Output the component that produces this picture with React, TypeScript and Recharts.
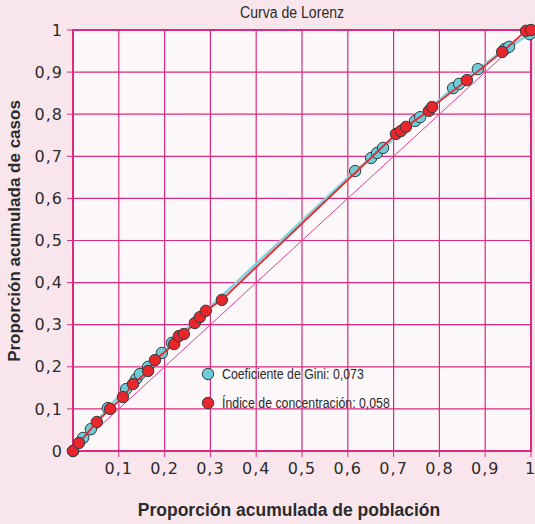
import React from "react";
import { ComposedChart, Scatter, XAxis, YAxis, CartesianGrid, ReferenceArea } from "recharts";

const title = "Curva de Lorenz";
const xTitle = "Proporción acumulada de población";
const yTitle = "Proporción acumulada de casos";
const giniLabel = "Coeficiente de Gini: 0,073";
const concLabel = "Índice de concentración: 0,058";

// cumulative population share / cumulative cases share
const giniX = [0, 0.022, 0.039, 0.076, 0.116, 0.138, 0.146, 0.164, 0.194, 0.216, 0.616, 0.651, 0.664, 0.677, 0.747, 0.758, 0.83, 0.843, 0.884, 0.943, 0.952, 0.997];
const giniY = [0, 0.031, 0.052, 0.102, 0.147, 0.171, 0.183, 0.2, 0.233, 0.257, 0.665, 0.696, 0.708, 0.72, 0.784, 0.793, 0.862, 0.872, 0.907, 0.955, 0.96, 0.99];

const concX = [0, 0.013, 0.052, 0.081, 0.109, 0.131, 0.164, 0.179, 0.221, 0.231, 0.242, 0.266, 0.277, 0.29, 0.325, 0.705, 0.716, 0.727, 0.777, 0.784, 0.86, 0.937, 0.989, 1];
const concY = [0, 0.019, 0.069, 0.1, 0.128, 0.159, 0.19, 0.216, 0.254, 0.273, 0.278, 0.304, 0.318, 0.333, 0.359, 0.753, 0.76, 0.77, 0.808, 0.817, 0.881, 0.948, 0.998, 1];

const equalityX = [0, 1];
const equalityY = [0, 1];

const xTicks = [0.1, 0.2, 0.3, 0.4, 0.5, 0.6, 0.7, 0.8, 0.9, 1];
const yTicks = [0, 0.1, 0.2, 0.3, 0.4, 0.5, 0.6, 0.7, 0.8, 0.9, 1];

const BG = "#f9e6ed";
const PLOT_BG = "#fcf7f9";
const GRID = "#dc2a7e";
const CYAN = "#6fcbd6";
const RED = "#e8262b";
const TEXT = "#2b2b2b";
const TICK_FONT = "'DejaVu Sans', sans-serif";
const SANS = "'Liberation Sans', Arial, sans-serif";

const toPoints = (xs: number[], ys: number[]) => xs.map((x, i) => ({ x, y: ys[i] }));

const fmt = (v: number) => (v === 0 || v === 1 ? String(v) : v.toFixed(1).replace(".", ","));

const dot = (fill: string) => (props: any) => (
  <circle cx={props.cx} cy={props.cy} r={5.7} fill={fill} stroke="#2f3f42" strokeWidth={1} />
);

// condensed look: the narrow face is not installed, so squeeze the regular one
const narrow = (size: number): React.CSSProperties => ({
  display: "inline-block",
  fontFamily: SANS,
  fontSize: size,
  color: TEXT,
  transform: "scaleX(0.88)",
  transformOrigin: "left center",
  whiteSpace: "nowrap",
});

function LegendBox() {
  const items = [
    { label: giniLabel, color: CYAN },
    { label: concLabel, color: RED },
  ];
  return (
    <div style={{ position: "absolute", left: 200, top: 359 }}>
      {items.map((it) => (
        <div key={it.label} style={{ display: "flex", alignItems: "center", height: 29 }}>
          <svg width={16} height={16} style={{ marginRight: 6 }}>
            <circle cx={8} cy={8} r={5.7} fill={it.color} stroke="#2f3f42" strokeWidth={1} />
          </svg>
          <span style={narrow(14)}>{it.label}</span>
        </div>
      ))}
    </div>
  );
}

export default function App() {
  const tick = { fontSize: 16, fill: TEXT, fontFamily: TICK_FONT, letterSpacing: 1 };
  return (
    <div style={{ position: "absolute", left: 0, top: 0, width: 535, height: 524, background: BG }}>
      <div style={{ position: "absolute", left: 240, top: 4 }}>
        <span style={narrow(16)}>{title}</span>
      </div>
      <ComposedChart width={535} height={524} margin={{ top: 30, right: 4, bottom: 43, left: 13 }}>
        <CartesianGrid stroke={GRID} strokeWidth={1.2} fill={PLOT_BG} fillOpacity={1} />
        <XAxis
          type="number"
          dataKey="x"
          domain={[0, 1]}
          ticks={xTicks}
          tickFormatter={fmt}
          tick={tick}
          tickLine={{ stroke: GRID }}
          axisLine={false}
          tickSize={6}
          tickMargin={6}
          height={30}
        />
        <YAxis
          type="number"
          dataKey="y"
          domain={[0, 1]}
          ticks={yTicks}
          tickFormatter={fmt}
          tick={tick}
          tickLine={{ stroke: GRID }}
          axisLine={false}
          tickSize={6}
          tickMargin={4}
          width={60}
        />
        <ReferenceArea x1={0} x2={1} y1={0} y2={1} fill="none" stroke={GRID} strokeWidth={2} />
        <Scatter
          data={toPoints(equalityX, equalityY)}
          line={{ stroke: "#e2408e", strokeWidth: 1 }}
          shape={() => <g />}
          isAnimationActive={false}
        />
        <Scatter
          data={toPoints(giniX, giniY)}
          line={{ stroke: "#7fd2dc", strokeWidth: 2.5 }}
          shape={dot(CYAN)}
          isAnimationActive={false}
        />
        <Scatter
          data={toPoints(concX, concY)}
          line={{ stroke: RED, strokeWidth: 1.8 }}
          shape={dot(RED)}
          isAnimationActive={false}
        />
      </ComposedChart>
      <LegendBox />
      <div
        style={{
          position: "absolute",
          left: 0,
          width: 578,
          top: 500,
          textAlign: "center",
          fontFamily: SANS,
          fontWeight: "bold",
          fontSize: 17.5,
          color: TEXT,
        }}
      >
        {xTitle}
      </div>
      <div
        style={{
          position: "absolute",
          left: 15,
          top: 231,
          transform: "translate(-50%, -50%) rotate(-90deg)",
          whiteSpace: "nowrap",
          fontFamily: SANS,
          fontWeight: "bold",
          fontSize: 17,
          color: TEXT,
        }}
      >
        {yTitle}
      </div>
    </div>
  );
}
